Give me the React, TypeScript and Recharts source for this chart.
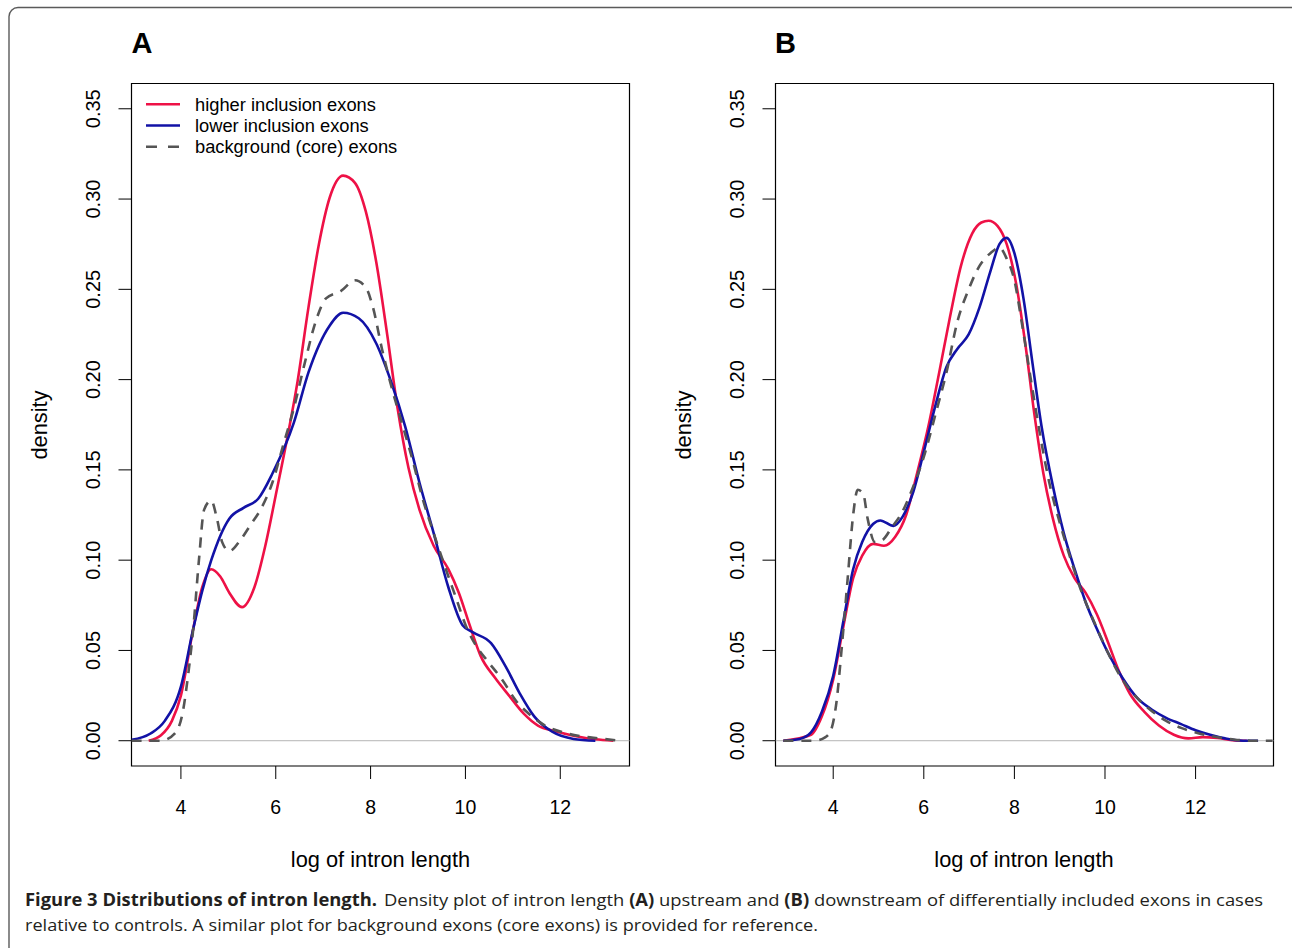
import { LineChart, Line, XAxis, YAxis, ReferenceLine, ReferenceArea } from 'recharts'

const xTicks = [4, 6, 8, 10, 12]
const yTicks = [0, 0.05, 0.1, 0.15, 0.2, 0.25, 0.3, 0.35]

const seriesNames = ['higher inclusion exons', 'lower inclusion exons', 'background (core) exons']
const seriesColors = ['#EE1146', '#1212A6', '#555555']
const seriesDash = ['', '', '10 8']

// panel A: upstream
const aHigherX = [3.32, 3.58, 3.81, 4.0, 4.26, 4.45, 4.64, 4.83, 5.02, 5.29, 5.55, 5.78, 6.0, 6.23, 6.46, 6.69, 6.91, 7.14, 7.42, 7.67, 7.9, 8.12, 8.35, 8.57, 8.8, 9.03, 9.33, 9.64, 9.86, 10.09, 10.32, 10.62, 10.92, 11.23, 11.53, 11.9, 12.28, 12.74, 13.12]
const aHigherY = [0, 0.003, 0.011, 0.025, 0.062, 0.085, 0.095, 0.091, 0.082, 0.074, 0.085, 0.108, 0.136, 0.166, 0.199, 0.24, 0.275, 0.301, 0.313, 0.309, 0.293, 0.265, 0.225, 0.184, 0.151, 0.128, 0.108, 0.095, 0.082, 0.064, 0.047, 0.035, 0.025, 0.015, 0.0084, 0.0053, 0.0028, 0.0008, 0]
const aLowerX = [2.96, 3.36, 3.66, 4.0, 4.26, 4.45, 4.64, 5.02, 5.32, 5.63, 5.93, 6.38, 6.69, 7.14, 7.42, 7.75, 8.12, 8.43, 8.73, 9.03, 9.33, 9.64, 9.94, 10.16, 10.54, 10.85, 11.15, 11.45, 11.83, 12.28, 12.74]
const aLowerY = [0.0005, 0.004, 0.011, 0.03, 0.062, 0.083, 0.1, 0.123, 0.129, 0.134, 0.148, 0.176, 0.204, 0.23, 0.237, 0.234, 0.22, 0.199, 0.174, 0.143, 0.115, 0.085, 0.064, 0.06, 0.054, 0.041, 0.026, 0.0135, 0.005, 0.001, 0]
const aCoreX = [2.96, 3.58, 3.89, 4.04, 4.15, 4.26, 4.38, 4.49, 4.64, 4.76, 4.87, 5.02, 5.25, 5.48, 5.7, 5.93, 6.16, 6.38, 6.61, 6.84, 7.06, 7.37, 7.67, 7.9, 8.05, 8.24, 8.43, 8.66, 8.88, 9.11, 9.33, 9.56, 9.79, 10.02, 10.24, 10.47, 10.77, 11.07, 11.38, 11.68, 12.06, 12.43, 12.81, 13.27]
const aCoreY = [0, 0, 0.0046, 0.016, 0.036, 0.062, 0.1, 0.128, 0.133, 0.123, 0.11, 0.105, 0.111, 0.12, 0.129, 0.143, 0.164, 0.184, 0.209, 0.232, 0.245, 0.249, 0.255, 0.251, 0.24, 0.217, 0.197, 0.176, 0.156, 0.133, 0.115, 0.097, 0.08, 0.063, 0.052, 0.044, 0.034, 0.022, 0.014, 0.0084, 0.0046, 0.0025, 0.0013, 0]

// panel B: downstream
const bHigherX = [2.9, 3.51, 3.75, 4.0, 4.23, 4.44, 4.64, 4.88, 5.12, 5.37, 5.61, 5.85, 6.1, 6.34, 6.58, 6.82, 7.07, 7.27, 7.43, 7.63, 7.83, 8.04, 8.24, 8.44, 8.64, 8.85, 9.09, 9.33, 9.57, 9.82, 10.06, 10.3, 10.55, 10.87, 11.19, 11.52, 11.84, 12.16, 12.48, 12.81, 13.13]
const bHigherY = [0, 0.0033, 0.0135, 0.034, 0.064, 0.09, 0.1025, 0.109, 0.108, 0.113, 0.125, 0.148, 0.174, 0.204, 0.235, 0.263, 0.281, 0.287, 0.288, 0.285, 0.275, 0.253, 0.22, 0.181, 0.148, 0.123, 0.1025, 0.09, 0.082, 0.07, 0.055, 0.039, 0.026, 0.016, 0.0084, 0.0033, 0.0013, 0.002, 0.0015, 0.0003, 0]
const bLowerX = [2.9, 3.26, 3.51, 3.75, 4.0, 4.23, 4.44, 4.64, 4.88, 5.04, 5.33, 5.53, 5.77, 6.01, 6.26, 6.5, 6.74, 6.99, 7.23, 7.47, 7.67, 7.83, 8.0, 8.2, 8.4, 8.6, 8.85, 9.09, 9.33, 9.57, 9.82, 10.06, 10.38, 10.71, 11.03, 11.35, 11.68, 12.0, 12.32, 12.65, 13.05, 13.38]
const bLowerY = [0, 0.001, 0.0046, 0.016, 0.036, 0.067, 0.095, 0.11, 0.12, 0.122, 0.119, 0.124, 0.138, 0.161, 0.186, 0.207, 0.217, 0.225, 0.24, 0.26, 0.275, 0.2785, 0.27, 0.245, 0.209, 0.174, 0.141, 0.115, 0.095, 0.077, 0.062, 0.049, 0.035, 0.0237, 0.0173, 0.0127, 0.0092, 0.0058, 0.0033, 0.0013, 0, 0]
const bCoreX = [2.9, 3.59, 3.83, 3.95, 4.07, 4.19, 4.32, 4.44, 4.54, 4.66, 4.76, 4.92, 5.08, 5.29, 5.53, 5.77, 6.01, 6.26, 6.5, 6.74, 6.99, 7.23, 7.47, 7.67, 7.83, 8.0, 8.16, 8.37, 8.57, 8.77, 9.01, 9.25, 9.49, 9.74, 10.06, 10.38, 10.71, 11.03, 11.35, 11.68, 12.0, 12.4, 12.81, 13.22, 13.7]
const bCoreY = [0, 0, 0.002, 0.0058, 0.021, 0.052, 0.09, 0.125, 0.139, 0.137, 0.123, 0.11, 0.111, 0.118, 0.127, 0.141, 0.158, 0.181, 0.204, 0.232, 0.25, 0.263, 0.27, 0.273, 0.267, 0.255, 0.232, 0.199, 0.169, 0.143, 0.12, 0.1, 0.082, 0.067, 0.049, 0.034, 0.0237, 0.0165, 0.011, 0.0071, 0.0046, 0.0023, 0.0008, 0, 0]

const toPoints = (xs: number[], ys: number[]) => xs.map((x, i) => ({ x, y: ys[i] }))

const FONT = '"Liberation Sans", Arial, Helvetica, sans-serif'
const Y_DOMAIN: [number, number] = [-0.014, 0.364]

// plot box inside each chart: left 131.5, right 629.5, top 83.5, bottom 766
const CHART_W = 660
const CHART_H = 900

function XTick({ x, y, payload }: any) {
  return (
    <text x={x} y={y + 35} textAnchor="middle" fontFamily={FONT} fontSize={19.5} fill="#000">
      {payload.value}
    </text>
  )
}

function YTick({ x, y, payload }: any) {
  const bx = x - 18.5
  return (
    <text x={bx} y={y} transform={`rotate(-90 ${bx} ${y})`} textAnchor="middle" fontFamily={FONT} fontSize={20} fill="#000">
      {payload.value.toFixed(2)}
    </text>
  )
}

function Panel({ left, xDomain, lines }: { left: number; xDomain: [number, number]; lines: { x: number; y: number }[][] }) {
  return (
    <div style={{ position: 'absolute', left, top: 0 }}>
      <LineChart width={CHART_W} height={CHART_H} margin={{ top: 83.5, right: 30.5, bottom: 104, left: 71.5 }}>
        <XAxis
          type="number" dataKey="x" domain={xDomain} allowDataOverflow ticks={xTicks}
          axisLine={false} tickSize={13} tickMargin={0} tickLine={{ stroke: '#000' }}
          height={30} tick={<XTick />}
        />
        <YAxis
          type="number" domain={Y_DOMAIN} allowDataOverflow ticks={yTicks}
          axisLine={false} tickSize={13} tickMargin={0} tickLine={{ stroke: '#000' }}
          width={60} tick={<YTick />}
        />
        <ReferenceLine y={0} stroke="#B4B4B4" strokeWidth={1} />
        {lines.map((pts, i) => (
          <Line
            key={i} data={pts} dataKey="y" type="monotone"
            stroke={seriesColors[i]} strokeWidth={2.6} strokeDasharray={seriesDash[i] || undefined}
            dot={false} activeDot={false} isAnimationActive={false}
          />
        ))}
        <ReferenceArea
          x1={xDomain[0]} x2={xDomain[1]} y1={Y_DOMAIN[0]} y2={Y_DOMAIN[1]}
          fill="none" fillOpacity={0} stroke="#000" strokeWidth={1.2} ifOverflow="visible"
        />
      </LineChart>
    </div>
  )
}

export default function App() {
  const aLines = [toPoints(aHigherX, aHigherY), toPoints(aLowerX, aLowerY), toPoints(aCoreX, aCoreY)]
  const bLines = [toPoints(bHigherX, bHigherY), toPoints(bLowerX, bLowerY), toPoints(bCoreX, bCoreY)]

  return (
    <div style={{ position: 'absolute', left: 0, top: 0, width: 1292, height: 948, overflow: 'hidden', background: '#fff' }}>
      <Panel left={0} xDomain={[2.958, 13.46]} lines={aLines} />
      <Panel left={643.5} xDomain={[2.726, 13.72]} lines={bLines} />

      <svg width={1292} height={948} style={{ position: 'absolute', left: 0, top: 0, pointerEvents: 'none' }}>
        <rect x={9} y={7.5} width={1320} height={1000} rx={9} fill="none" stroke="#5a5a5a" strokeWidth={1.4} />

        <text x={131.5} y={52.7} fontFamily={FONT} fontSize={29} fontWeight="bold">A</text>
        <text x={775} y={52.7} fontFamily={FONT} fontSize={29} fontWeight="bold">B</text>

        {[0, 643.5].map(dx => (
          <g key={dx} fontFamily={FONT} fontSize={21.8} fill="#000">
            <text x={47 + dx} y={425} transform={`rotate(-90 ${47 + dx} 425)`} textAnchor="middle">density</text>
            <text x={380.5 + dx} y={867} textAnchor="middle">log of intron length</text>
          </g>
        ))}

        {seriesNames.map((name, i) => (
          <g key={name}>
            <line x1={146} x2={180} y1={104.3 + i * 21.2} y2={104.3 + i * 21.2}
              stroke={seriesColors[i]} strokeWidth={2.6} strokeDasharray={seriesDash[i] ? '11 11' : undefined} />
            <text x={195} y={110.8 + i * 21.2} fontFamily={FONT} fontSize={18.3} fill="#000">{name}</text>
          </g>
        ))}

        <g fontFamily='"Open Sans", Lato, sans-serif' fontSize={17} fill="#231f20">
          <text x={25} y={906} fontWeight="bold" textLength={352} lengthAdjust="spacingAndGlyphs">Figure 3 Distributions of intron length.</text>
          <text x={384} y={906} textLength={879} lengthAdjust="spacingAndGlyphs">
            Density plot of intron length <tspan fontWeight="bold">(A)</tspan> upstream and <tspan fontWeight="bold">(B)</tspan> downstream of differentially included exons in cases
          </text>
          <text x={25} y={931} textLength={793} lengthAdjust="spacingAndGlyphs">relative to controls. A similar plot for background exons (core exons) is provided for reference.</text>
        </g>
      </svg>
    </div>
  )
}
